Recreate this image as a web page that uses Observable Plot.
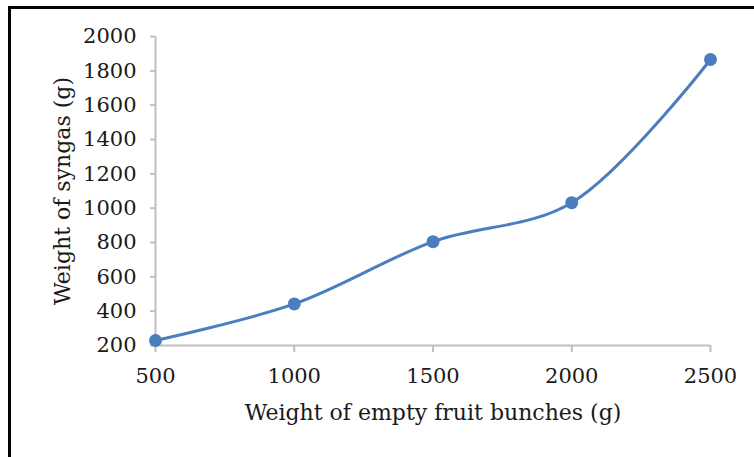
<!DOCTYPE html>
<html>
<head>
<meta charset="utf-8">
<script src="https://cdn.jsdelivr.net/npm/d3@7"></script>
<script src="https://cdn.jsdelivr.net/npm/@observablehq/plot@0.6"></script>
<style>
  html, body { margin: 0; padding: 0; background: #fff; }
  #wrap { position: relative; width: 754px; height: 457px; overflow: hidden; }
  #frame { position: absolute; left: 8px; top: 6px; width: 800px; height: 500px;
           border-top: 3px solid #000; border-left: 3px solid #000; box-sizing: border-box; pointer-events: none; }
  svg { display: block; }
</style>
</head>
<body>
<div id="wrap"><div id="chart"></div><div id="frame"></div></div>
<script>
const efbWeight = [500, 1000, 1500, 2000, 2500];
const syngasWeight = [229, 442, 805, 1032, 1866];
const xTicks = [500, 1000, 1500, 2000, 2500];
const yTicks = [200, 400, 600, 800, 1000, 1200, 1400, 1600, 1800, 2000];
const xLabel = "Weight of empty fruit bunches (g)";
const yLabel = "Weight of syngas (g)";

const data = efbWeight.map((x, i) => ({x, y: syngasWeight[i]}));
const axisColor = "#bfbfbf";
const lineColor = "#4a7ebf";
const textColor = "#1a1a1a";
const font = "'DejaVu Serif', serif";

const chart = Plot.plot({
  width: 754,
  height: 457,
  marginLeft: 155,
  marginRight: 44,
  marginTop: 36,
  marginBottom: 112,
  style: {fontFamily: font, fontSize: "20px", color: textColor, background: "transparent"},
  x: {domain: [500, 2500]},
  y: {domain: [200, 2000]},
  marks: [
    Plot.ruleY([200], {stroke: axisColor, strokeWidth: 2}),
    Plot.ruleX([500], {stroke: axisColor, strokeWidth: 2}),
    Plot.axisX({ticks: xTicks, tickSize: 7, tickPadding: 16, stroke: axisColor, strokeWidth: 2,
      fill: textColor, fontSize: 21, tickFormat: d => String(d), label: null}),
    Plot.axisY({ticks: yTicks, tickSize: 5, tickPadding: 14, stroke: axisColor, strokeWidth: 2,
      fill: textColor, fontSize: 21, tickFormat: d => String(d), label: null}),
    Plot.text([xLabel], {frameAnchor: "bottom", dy: 67, text: d => d, fontSize: 22, fill: textColor,
      textAnchor: "middle", lineAnchor: "middle"}),
    Plot.text([yLabel], {frameAnchor: "left", dx: -93, rotate: -90, text: d => d, fontSize: 22, fill: textColor,
      textAnchor: "middle", lineAnchor: "middle"}),
    Plot.line(data, {x: "x", y: "y", curve: "catmull-rom", stroke: lineColor, strokeWidth: 3}),
    Plot.dot(data, {x: "x", y: "y", r: 6.5, fill: lineColor, stroke: "none"})
  ]
});
document.getElementById("chart").appendChild(chart);
</script>
</body>
</html>
